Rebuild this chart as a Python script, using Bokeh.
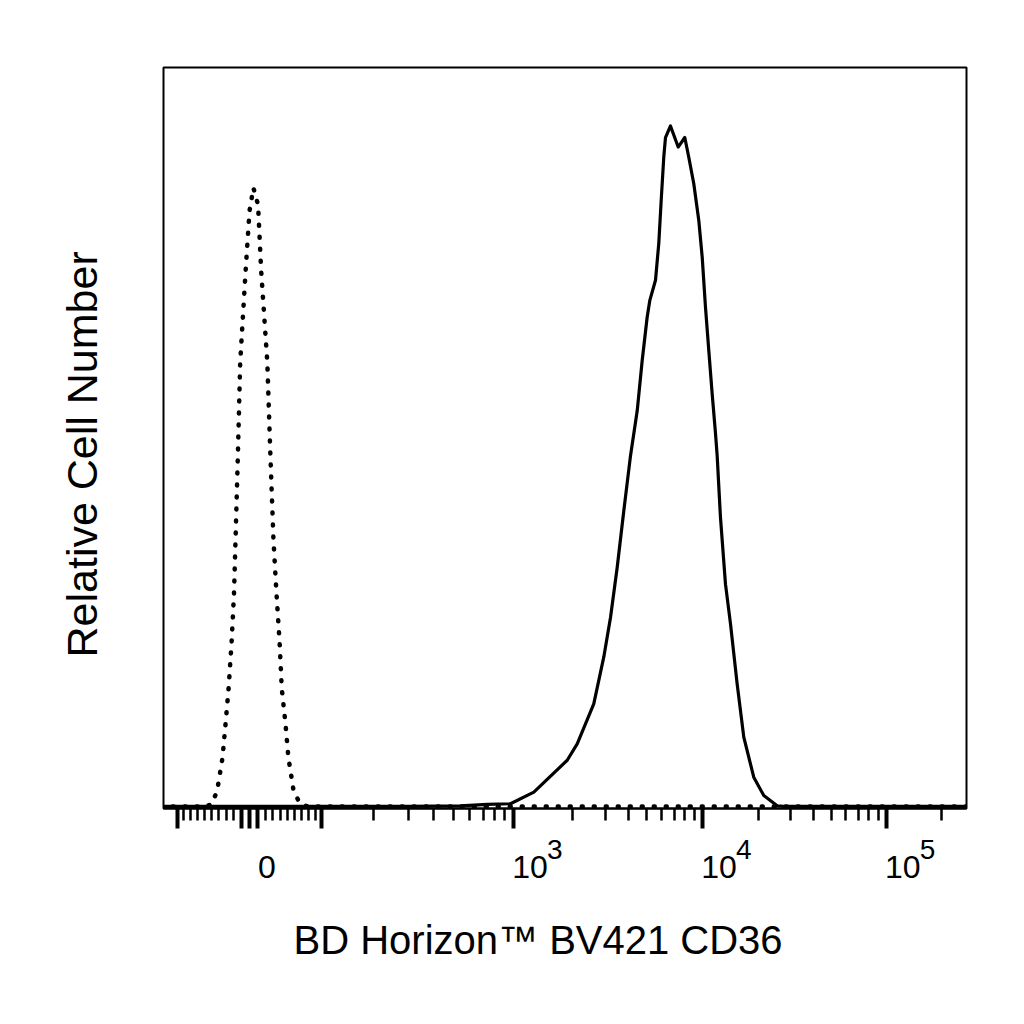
import numpy as np
from bokeh.plotting import figure
from bokeh.models import Range1d, FixedTicker, LinearAxis, Title
from bokeh.embed import file_html
from bokeh.resources import INLINE

# logicle (biexponential) display, as used by the cytometry software
T = 262144
M = 4.9
W = 1.0
P = 2.095  # solves W = 2p ln(p) / (p + 1)

# fluorescence intensity vs relative count
iso_fluor = [-150, -57, -49, -42, -35, -31, -27, -23, -20, -18, -15, -12, -5, 0, 5,
             11, 15, 23, 27, 31, 35, 39, 42, 47, 51, 58, 67, 78, 300000]
iso_count = [0, 0, 0.4, 2.4, 7.2, 12.2, 17.4, 24.4, 31.3, 39.3, 51.6, 65.3, 78.8, 87.6, 91.0,
             88.5, 78.8, 65.3, 51.6, 39.3, 31.3, 24.4, 17.4, 12.2, 7.2, 2.4, 0.4, 0, 0]

cd36_fluor = [-150, 300, 540, 734, 962, 1267, 1888, 2130, 2604, 2943,
              3194, 3468, 3760, 4083, 4434, 4715, 5015, 5177, 5557, 5787,
              5962, 6157, 6289, 6692, 7362, 7992, 8399, 8939, 9513, 9926,
              10342, 10775, 11240, 11712, 11962, 12467, 13272, 14124, 15358, 16682,
              18899, 21424, 25331, 27420, 300000]
cd36_count = [0, 0, 0.1, 0.3, 0.4, 2.1, 6.8, 9.2, 15.1, 22.0,
              27.8, 35.2, 43.5, 51.6, 58.2, 65.6, 72.0, 74.4, 77.4, 82.8,
              89.1, 95.5, 98.4, 100.1, 97.0, 98.4, 95.5, 91.6, 86.2, 80.8,
              73.4, 67.1, 60.7, 54.9, 51.6, 42.5, 32.7, 26.9, 18.0, 10.2,
              4.3, 1.6, 0.1, 0, 0]

major_ticks = [-100, -10, 0, 10, 100, 1e3, 1e4, 1e5]
minor_ticks = ([-90, -80, -70, -60, -50, -40, -30, -20]
               + [20, 30, 40, 50, 60, 70, 80, 90]
               + [200, 300, 400, 500, 600, 700, 800, 900]
               + [2000, 3000, 4000, 5000, 6000, 7000, 8000, 9000]
               + [20000, 30000, 40000, 50000, 60000, 70000, 80000, 90000]
               + [200000])
base_labels = [(0, "0"), (1e3, "10"), (1e4, "10"), (1e5, "10")]
exp_labels = [(1e3, "3"), (1e4, "4"), (1e5, "5")]

x_title = "BD Horizon\u2122 BV421 CD36"
y_title = "Relative Cell Number"
FONT = "Liberation Sans"
PX = 183.0  # frame pixels per display decade


def logicle(vals):
    u = np.linspace(-6, 6, 240001)
    a = np.abs(u)
    s = np.sign(u) * T * 10 ** -(M - W) * (10 ** a - P ** 2 * 10 ** (-a / P) + P ** 2 - 1)
    return np.interp(np.asarray(vals, dtype=float), s, u)


def label_axis(items, shift_px, size, standoff):
    # an axis that only carries text, its labels nudged right of the real ticks
    pos = [round(float(logicle([v])[0]) + s / PX, 5)
           for (v, _), s in zip(items, shift_px)]
    a = LinearAxis(ticker=FixedTicker(ticks=pos),
                   major_label_overrides={k: t for k, (_, t) in zip(pos, items)},
                   major_label_text_font=FONT, major_label_text_font_size=size,
                   major_label_text_color="black", major_label_standoff=standoff,
                   major_tick_out=0, major_tick_in=0, minor_tick_out=0, minor_tick_in=0,
                   major_tick_line_color=None, minor_tick_line_color=None,
                   axis_line_color=None)
    p.add_layout(a, "below")


p = figure(width=1016, height=1016,
           x_range=Range1d(-0.470, 3.918), y_range=Range1d(-0.3, 108.7),
           y_axis_location=None,
           output_backend="svg", toolbar_location=None,
           min_border_left=163, min_border_right=50,
           min_border_top=67, min_border_bottom=208)

p.line(logicle(iso_fluor), iso_count, line_color="black", line_width=4.5,
       line_dash="1 11", line_cap="round")
p.line(logicle(cd36_fluor), cd36_count, line_color="black", line_width=3.2,
       line_join="round")

p.xgrid.visible = False
p.ygrid.visible = False
p.outline_line_color = "black"
p.outline_line_width = 2
p.outline_line_alpha = 1

ax = p.xaxis[0]
ax.ticker = FixedTicker(ticks=[float(v) for v in logicle(major_ticks)],
                        minor_ticks=[float(v) for v in logicle(minor_ticks)])
ax.axis_line_width = 2
ax.major_tick_in = 0
ax.major_tick_out = 20
ax.major_tick_line_width = 4
ax.minor_tick_in = 0
ax.minor_tick_out = 12
ax.minor_tick_line_width = 2.5
ax.major_label_text_font_size = "0px"
ax.major_label_standoff = 0

# superscripts first (closer to the frame), then the "10" / "0" row
label_axis(exp_labels, [41] * 3, "28px", 11)
label_axis(base_labels, [17.5, 16.3, 16.3, 16.3], "32px", -6)

p.add_layout(Title(text=x_title, align="left", offset=130, standoff=71,
                   text_font=FONT, text_font_size="40px", text_font_style="normal",
                   text_color="black"), "below")
p.add_layout(Title(text=y_title, align="left", offset=151, standoff=112,
                   vertical_align="top",
                   text_font=FONT, text_font_size="43px", text_font_style="normal",
                   text_color="black"), "left")

open("out.html", "w").write(file_html(p, INLINE))
